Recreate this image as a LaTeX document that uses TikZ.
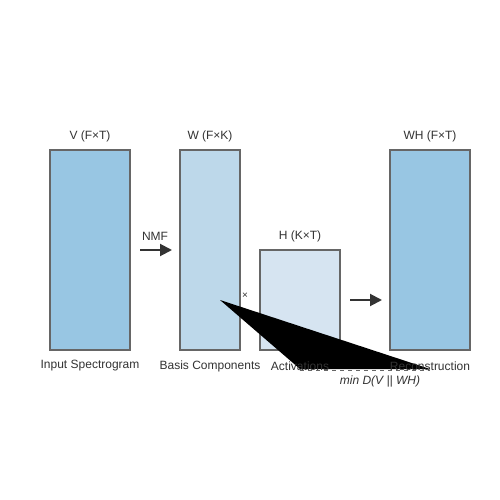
\documentclass[tikz,border=0pt]{standalone}
\usepackage{fontspec}
\setmainfont{Liberation Sans}
\usetikzlibrary{arrows.meta}
\definecolor{cdark}{HTML}{98C6E3}
\definecolor{cmid}{HTML}{BDD8EA}
\definecolor{clight}{HTML}{D6E4F1}
\definecolor{cstroke}{HTML}{666666}
\definecolor{ctext}{HTML}{333333}
\tikzset{
  mat/.style={draw=cstroke, line width=1.2pt, inner sep=0pt, outer sep=0pt, anchor=north west},
  lbl/.style={text=ctext, font=\fontsize{12}{14}\selectfont, inner sep=0pt},
  arr/.style={draw=ctext, line width=2pt, -{Triangle[length=12pt,width=12pt]}},
}
\begin{document}
\begin{tikzpicture}[x=1pt,y=-1pt]
\useasboundingbox (0,0) rectangle (500,500);
\fill[white] (0,0) rectangle (500,500);
% matrices
\node[mat, fill=cdark, minimum width=80pt, minimum height=200pt] (V) at (50,150) {};
\node[mat, fill=cmid, minimum width=60pt, minimum height=200pt] (W) at (180,150) {};
\node[mat, fill=clight, minimum width=80pt, minimum height=100pt] (H) at (260,250) {};
\node[mat, fill=cdark, minimum width=80pt, minimum height=200pt] (WH) at (390,150) {};
% objective connector (filled)
\coordinate (c1) at (220,300);
\coordinate (c2) at (300,369);
\coordinate (c3) at (430,369);
\fill[black] (c1) -- (c2) -- (c3) -- cycle;
% top labels
\node[lbl] (tV) at (90,136) {V (F×T)};
\node[lbl] (tW) at (210,136) {W (F×K)};
\node[lbl] (tH) at (300,236) {H (K×T)};
\node[lbl] (tWH) at (430,136) {WH (F×T)};
% bottom labels
\node[lbl] (bV) at (90,366) {Input Spectrogram};
\node[lbl] (bW) at (210,366) {Basis Components};
\node[lbl] (bH) at (300,366) {Activations};
\node[lbl] (bWH) at (430,366) {Reconstruction};
% dashed objective line
\coordinate (d1) at (300,370);
\coordinate (d2) at (430,370);
\draw[cstroke, line width=1pt, dash pattern=on 4pt off 4pt] (d1) -- (d2);
% arrows
\coordinate (a1s) at (140,250);
\coordinate (a1e) at (172,250);
\draw[arr] (a1s) -- (a1e);
\node[lbl] (nmf) at (155,236) {NMF};
\coordinate (a2s) at (350,300);
\coordinate (a2e) at (382,300);
\draw[arr] (a2s) -- (a2e);
\node[lbl, font=\fontsize{10}{11}\selectfont] (times) at (245,296) {×};
\node[lbl, font=\itshape\fontsize{12}{14}\selectfont] (obj) at (380,381) {min D(V || WH)};
\end{tikzpicture}
\end{document}
